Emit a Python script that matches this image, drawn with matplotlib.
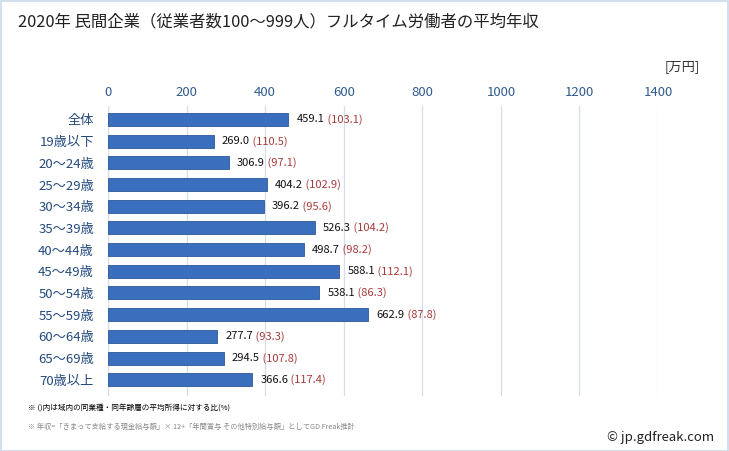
import matplotlib
matplotlib.use('Agg')
import numpy as np
from matplotlib import pyplot as plt
from matplotlib.patches import Rectangle

plt.rcParams['font.family'] = ['Noto Sans CJK JP', 'DejaVu Sans']

# data
categories = ['全体', '19歳以下', '20～24歳', '25～29歳', '30～34歳', '35～39歳', '40～44歳',
              '45～49歳', '50～54歳', '55～59歳', '60～64歳', '65～69歳', '70歳以上']
income = [459.1, 269.0, 306.9, 404.2, 396.2, 526.3, 498.7, 588.1, 538.1, 662.9, 277.7, 294.5, 366.6]
ratio = [103.1, 110.5, 97.1, 102.9, 95.6, 104.2, 98.2, 112.1, 86.3, 87.8, 93.3, 107.8, 117.4]
xticks = [0, 200, 400, 600, 800, 1000, 1200, 1400]

W, H = 729, 451
fig = plt.figure(figsize=(W / 100, H / 100), dpi=100)
fig.patches.append(Rectangle((0.5 / W, 0.5 / H), 1 - 1.5 / W, 1 - 1.5 / H, transform=fig.transFigure,
                             fill=False, edgecolor='#c9d9ec', linewidth=1.2))

ax = fig.add_axes([108 / W, 1 - 396 / H, (658 - 108) / W, (396 - 106) / H])
y = np.arange(len(categories))
ax.barh(y, income, height=0.6, color='#3a6fbe', edgecolor='#2c5797', linewidth=0.6, zorder=3)

ax.set_xlim(0, 1400)
ax.set_ylim(12.75, -0.62)
ax.set_xticks(xticks)
ax.xaxis.tick_top()
ax.tick_params(axis='x', length=0, pad=5, labelsize=9.5, labelcolor='#2f5b8f')
ax.set_yticks(y)
ax.set_yticklabels(categories)
ax.tick_params(axis='y', length=0, pad=10, labelsize=9.5, labelcolor='#234a7d')
ax.grid(axis='x', color='#d5dfec', linewidth=0.9, zorder=0)
for s in ax.spines.values():
    s.set_visible(False)
ax.axvline(0, color='#c8d2de', linewidth=0.9, zorder=1)

# value labels: income in black, ratio in red
for yi, v, r in zip(y, income, ratio):
    t = ax.annotate(f'{v:.1f}', (v, yi), xytext=(6, 0), textcoords='offset points',
                    va='center', ha='left', fontsize=8, color='#111111')
    ax.annotate(f' ({r:.1f})', xy=(1, 0.5), xycoords=t, va='center', ha='left',
                fontsize=8, color='#a83a3a')

fig.text(18 / W, 1 - 22 / H, '2020年 民間企業（従業者数100～999人）フルタイム労働者の平均年収',
         fontsize=11.8, color='#222222', va='center', ha='left')
fig.text(700 / W, 1 - 67 / H, '[万円]', fontsize=9.5, color='#333333', va='center', ha='right')
fig.text(28 / W, 1 - 409 / H, '※ ()内は域内の同業種・同年齢層の平均所得に対する比(%)',
         fontsize=5.5, color='#000000', va='center', ha='left')
fig.text(28 / W, 1 - 427 / H, '※ 年収=「きまって支給する現金給与額」× 12+「年間賞与 その他特別給与額」としてGD Freak推計',
         fontsize=5.2, color='#888888', va='center', ha='left')
fig.text(714 / W, 1 - 437 / H, '© jp.gdfreak.com', fontsize=9.5, color='#222222', va='center', ha='right')

fig.savefig('out.png', dpi=100)
